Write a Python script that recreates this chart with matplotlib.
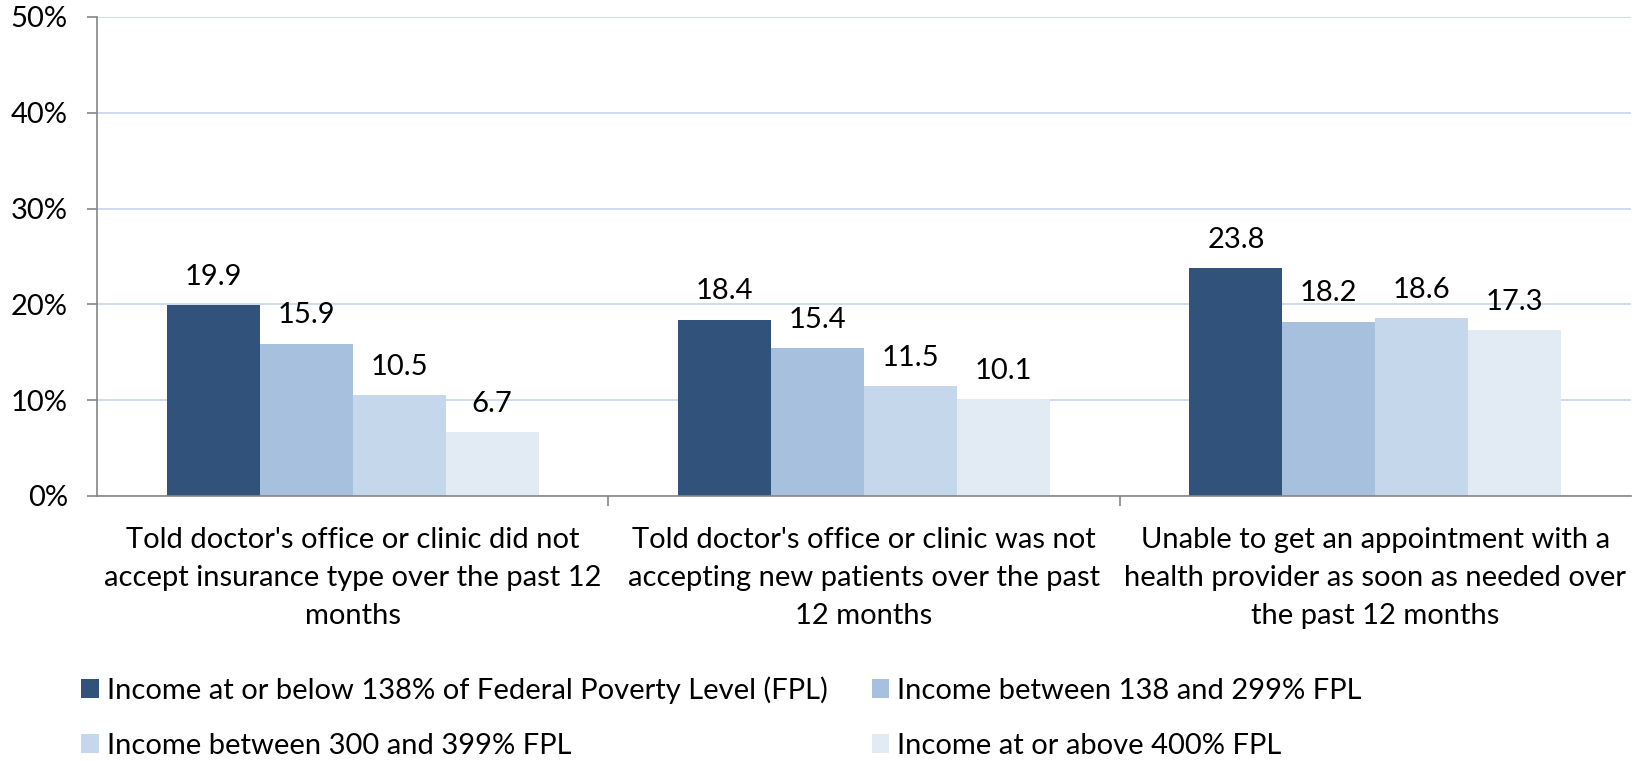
import matplotlib.pyplot as plt
import numpy as np
from matplotlib.patches import Patch

plt.rcParams['font.family'] = ['Lato', 'DejaVu Sans']

categories = [
    "Told doctor's office or clinic did not\naccept insurance type over the past 12\nmonths",
    "Told doctor's office or clinic was not\naccepting new patients over the past\n12 months",
    "Unable to get an appointment with a\nhealth provider as soon as needed over\nthe past 12 months",
]
series_names = [
    "Income at or below 138% of Federal Poverty Level (FPL)",
    "Income between 138 and 299% FPL",
    "Income between 300 and 399% FPL",
    "Income at or above 400% FPL",
]
below_138 = [19.9, 18.4, 23.8]
between_138_299 = [15.9, 15.4, 18.2]
between_300_399 = [10.5, 11.5, 18.6]
above_400 = [6.7, 10.1, 17.3]
yticks = [0, 10, 20, 30, 40, 50]

colors = ['#31527a', '#a7c0de', '#c5d7eb', '#e2eaf4']
values = [below_138, between_138_299, between_300_399, above_400]
FS = 21

fig = plt.figure(figsize=(16.5, 7.61), dpi=100)
ax = fig.add_axes([97 / 1650, 1 - 496 / 761, (1631 - 97) / 1650, (496 - 17) / 761])

x = np.arange(len(categories))
width = 1 / 5.5
for i, (vals, col) in enumerate(zip(values, colors)):
    pos = x + (i - 1.5) * width
    ax.bar(pos, vals, width=width, color=col, zorder=2)
    for p, v in zip(pos, vals):
        ax.annotate(f"{v:.1f}", (p, v), xytext=(0, 11), textcoords='offset points',
                    ha='center', va='bottom', fontsize=FS, color='black')

ax.set_xlim(-0.5, 2.5)
ax.set_ylim(0, 50)
ax.set_yticks(yticks)
ax.set_yticklabels([f"{t}%" for t in yticks], fontsize=FS)
ax.yaxis.grid(True, color='#c6d5ea', linewidth=1.2, zorder=0)
ax.set_axisbelow(True)

ax.set_xticks([0.5, 1.5])
ax.set_xticklabels([])
ax.tick_params(axis='x', length=7, color='#868686', width=1.2)
ax.tick_params(axis='y', length=7, color='#868686', width=1.2, pad=14)
for t, lab in zip(x, categories):
    ax.text(t, -3.2, lab, ha='center', va='top', fontsize=FS, linespacing=1.58,
            transform=ax.transData)

for s in ['top', 'right']:
    ax.spines[s].set_visible(False)
for s in ['left', 'bottom']:
    ax.spines[s].set_color('#868686')
    ax.spines[s].set_linewidth(1.2)

# legend is filled column-wise, so reorder to read row-wise
order = [0, 2, 1, 3]
handles = [Patch(facecolor=colors[i], edgecolor='none') for i in order]
labels = [series_names[i] for i in order]
fig.legend(handles, labels, ncol=2, loc='upper left',
           bbox_to_anchor=(55 / 1650, 1 - 650 / 761), frameon=False, fontsize=FS,
           handlelength=0.6, handleheight=0.6, handletextpad=0.28,
           columnspacing=1.5, labelspacing=1.0)

fig.savefig('out.png', dpi=100)
